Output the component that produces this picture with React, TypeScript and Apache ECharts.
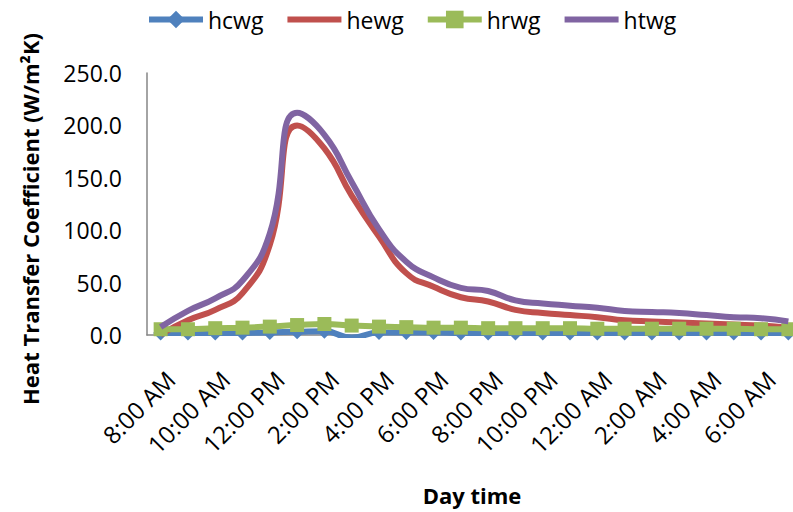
import React, { useEffect, useRef } from "react";
import * as echarts from "echarts";

const hours = [
  "8:00 AM", "9:00 AM", "10:00 AM", "11:00 AM", "12:00 PM", "1:00 PM",
  "2:00 PM", "3:00 PM", "4:00 PM", "5:00 PM", "6:00 PM", "7:00 PM",
  "8:00 PM", "9:00 PM", "10:00 PM", "11:00 PM", "12:00 AM", "1:00 AM",
  "2:00 AM", "3:00 AM", "4:00 AM", "5:00 AM", "6:00 AM", "7:00 AM",
];
const hcwg = [2, 2, 2, 2, 2.5, 3, 3.5, -2.5, 2.5, 2.5, 2.5, 2, 2, 2, 2, 2, 2, 2, 2, 2, 2, 2, 2, 2];
const hewg = [0.5, 14, 24, 40, 86, 200, 178, 133, 94, 59, 46, 36, 32, 24, 21, 19, 17, 14, 13, 12, 11, 10, 9, 7];
const hrwg = [5.5, 5.5, 6.5, 7, 8, 9.5, 10.5, 9, 8, 7.5, 7, 7, 6.5, 6.5, 6.5, 6.5, 6, 6, 6, 6, 6, 6, 5.5, 5.5];
const htwg = [7.6, 23, 35, 52, 97, 212, 191, 146, 101, 70, 55, 45, 42, 33, 30, 28, 26, 23, 22, 21, 19, 17, 16, 13];

const yTicks = { min: 0, max: 250, interval: 50 };
const FONT = "'Open Sans', sans-serif";

export default function App() {
  const ref = useRef<HTMLDivElement>(null);
  useEffect(() => {
    if (!ref.current) return;
    const chart = echarts.init(ref.current, undefined, { renderer: "svg" });
    const lineSeries = (name: string, data: number[], color: string, symbol: string, size: number, z: number) => ({
      name,
      type: "line",
      data,
      smooth: true,
      symbol,
      symbolSize: size,
      showSymbol: symbol !== "none",
      z,
      lineStyle: { color, width: 6 },
      itemStyle: { color },
      xAxisIndex: 0,
      yAxisIndex: 0,
    });
    chart.setOption({
      animation: false,
      backgroundColor: "#ffffff",
      textStyle: { fontFamily: FONT },
      legend: {
        top: 3,
        left: 141,
        itemWidth: 54,
        itemHeight: 22,
        itemGap: 21,
        lineStyle: { width: 6 },
        textStyle: { fontFamily: FONT, fontSize: 23, color: "#000" },
        data: [
          { name: "hcwg" },
          { name: "hewg", itemStyle: { opacity: 0 } },
          { name: "hrwg" },
          { name: "htwg", itemStyle: { opacity: 0 } },
        ],
      },
      grid: [
        { left: 147, right: -9, top: 73, bottom: 177, containLabel: false, outerBoundsMode: "none" },
        { left: 157, right: -19, top: 73, bottom: 177, containLabel: false, outerBoundsMode: "none" },
      ],
      xAxis: [
        {
          type: "category",
          gridIndex: 0,
          data: hours,
          boundaryGap: true,
          axisLine: { show: true, lineStyle: { color: "#868686", width: 1.5 } },
          axisTick: { show: false },
          axisLabel: { show: false },
          splitLine: { show: false },
        },
        {
          type: "category",
          gridIndex: 1,
          data: hours,
          boundaryGap: true,
          axisLine: { show: false },
          axisTick: { show: false },
          axisLabel: {
            show: true,
            interval: 1,
            rotate: 45,
            margin: 40,
            fontFamily: FONT,
            fontSize: 24,
            color: "#000",
          },
          splitLine: { show: false },
        },
      ],
      yAxis: [
        {
          type: "value",
          gridIndex: 0,
          min: yTicks.min,
          max: yTicks.max,
          interval: yTicks.interval,
          axisLine: { show: true, lineStyle: { color: "#868686", width: 1.5 } },
          axisTick: { show: false },
          splitLine: { show: false },
          axisLabel: {
            margin: 25,
            fontFamily: FONT,
            fontSize: 23,
            color: "#000",
            formatter: (v: number) => v.toFixed(1),
          },
        },
        {
          type: "value",
          gridIndex: 1,
          min: 0,
          max: 1,
          show: false,
        },
      ],
      graphic: [
        {
          type: "text",
          x: 30,
          y: 219,
          rotation: Math.PI / 2,
          style: {
            text: "Heat Transfer Coefficient (W/m²K)",
            fontFamily: FONT,
            fontWeight: "bold",
            fontSize: 22,
            fill: "#000",
            align: "center",
            verticalAlign: "middle",
          },
        },
        {
          type: "text",
          x: 472,
          y: 495,
          style: {
            text: "Day time",
            fontFamily: FONT,
            fontWeight: "bold",
            fontSize: 22,
            fill: "#000",
            align: "center",
            verticalAlign: "middle",
          },
        },
      ],
      series: [
        lineSeries("hcwg", hcwg, "#4F81BD", "diamond", 15, 2),
        lineSeries("hewg", hewg, "#C0504D", "none", 0, 3),
        lineSeries("hrwg", hrwg, "#9BBB59", "rect", 14, 4),
        lineSeries("htwg", htwg, "#8064A2", "none", 0, 5),
      ],
    });
    return () => chart.dispose();
  }, []);
  return <div ref={ref} style={{ width: 793, height: 512, position: "absolute", left: 0, top: 0 }} />;
}
